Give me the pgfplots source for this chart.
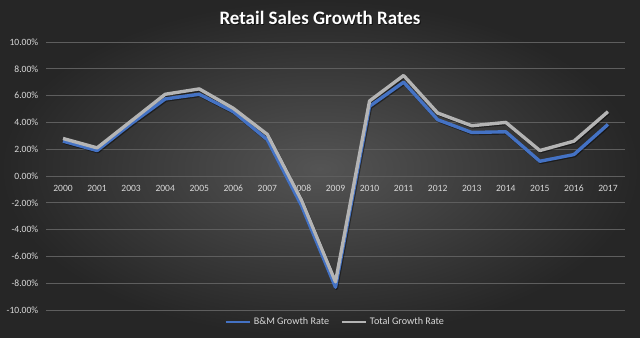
\documentclass[border=0pt]{standalone}
\usepackage{pgfplots}
\pgfplotsset{compat=1.18}
\usepackage{fontspec}
\setmainfont{Carlito}
\definecolor{bmblue}{HTML}{4472C4}
\definecolor{totgray}{HTML}{B4B4B4}
\definecolor{gridc}{HTML}{5E5E5E}
\definecolor{lblc}{HTML}{D9D9D9}
\begin{document}
\begin{tikzpicture}
\shade[inner color={rgb,255:red,84;green,84;blue,84}, outer color={rgb,255:red,38;green,38;blue,38}] (0,0) rectangle (16,8.425);
\node[text=black, opacity=0.6, font=\fontsize{13.5}{15}\selectfont\bfseries] at (8.02,7.955) {Retail Sales Growth Rates};
\node[text=white, font=\fontsize{13.5}{15}\selectfont\bfseries] at (8,7.975) {Retail Sales Growth Rates};
\begin{axis}[
  at={(1.15cm,0.675cm)}, anchor=south west,
  scale only axis, width=14.475cm, height=6.7cm,
  xmin=-0.5, xmax=16.5, ymin=-10, ymax=10,
  axis x line=middle, axis y line=left,
  axis line style={draw=none},
  x axis line style={draw=gridc, -},
  y axis line style={draw=none, -},
  xtick={0,...,16},
  xticklabels={2000,2001,2003,2004,2005,2006,2007,2008,2009,2010,2011,2012,2013,2014,2015,2016,2017},
  ytick={-10,-8,...,10},
  yticklabel={\pgfmathprintnumber[fixed,fixed zerofill,precision=2]{\tick}\%},
  /pgf/number format/assume math mode=true,
  major tick length=0pt,
  ymajorgrids, grid style={gridc, line width=0.6pt},
  tick label style={text=lblc, font=\fontsize{6.8}{8}\selectfont},
  xticklabel style={yshift=-3pt},
  yticklabel style={xshift=-2pt},
  legend style={at={(0.5,0)}, anchor=center, yshift=-0.3cm, draw=none, fill=none,
    text=lblc, font=\fontsize{7.2}{8}\selectfont, legend columns=2,
    /tikz/every even column/.append style={column sep=6pt}},
  legend image code/.code={\draw[#1, line width=2pt] (0cm,0cm) -- (0.6cm,0cm);},
  clip=false,
]
\addplot[black, opacity=0.45, line width=2.4pt, line join=round, forget plot, xshift=0.6pt, yshift=-0.8pt] coordinates {
(0,2.8)(1,2.1)(2,4.1)(3,6.1)(4,6.5)(5,5.05)(6,3.1)(7,-1.8)(8,-7.9)(9,5.6)(10,7.5)(11,4.7)(12,3.75)(13,4.0)(14,1.9)(15,2.6)(16,4.8)};
\addplot[black, opacity=0.45, line width=2.4pt, line join=round, forget plot, xshift=0.6pt, yshift=-0.8pt] coordinates {
(0,2.6)(1,1.9)(2,3.9)(3,5.75)(4,6.1)(5,4.8)(6,2.7)(7,-2.2)(8,-8.3)(9,5.2)(10,7.0)(11,4.2)(12,3.25)(13,3.3)(14,1.1)(15,1.6)(16,3.85)};
\addplot[bmblue, line width=2.4pt, line join=round] coordinates {
(0,2.6)(1,1.9)(2,3.9)(3,5.75)(4,6.1)(5,4.8)(6,2.7)(7,-2.2)(8,-8.3)(9,5.2)(10,7.0)(11,4.2)(12,3.25)(13,3.3)(14,1.1)(15,1.6)(16,3.85)};
\addlegendentry{B\&M Growth Rate}
\addplot[totgray, line width=2.4pt, line join=round] coordinates {
(0,2.8)(1,2.1)(2,4.1)(3,6.1)(4,6.5)(5,5.05)(6,3.1)(7,-1.8)(8,-7.9)(9,5.6)(10,7.5)(11,4.7)(12,3.75)(13,4.0)(14,1.9)(15,2.6)(16,4.8)};
\addlegendentry{Total Growth Rate}
\end{axis}
\end{tikzpicture}
\end{document}
